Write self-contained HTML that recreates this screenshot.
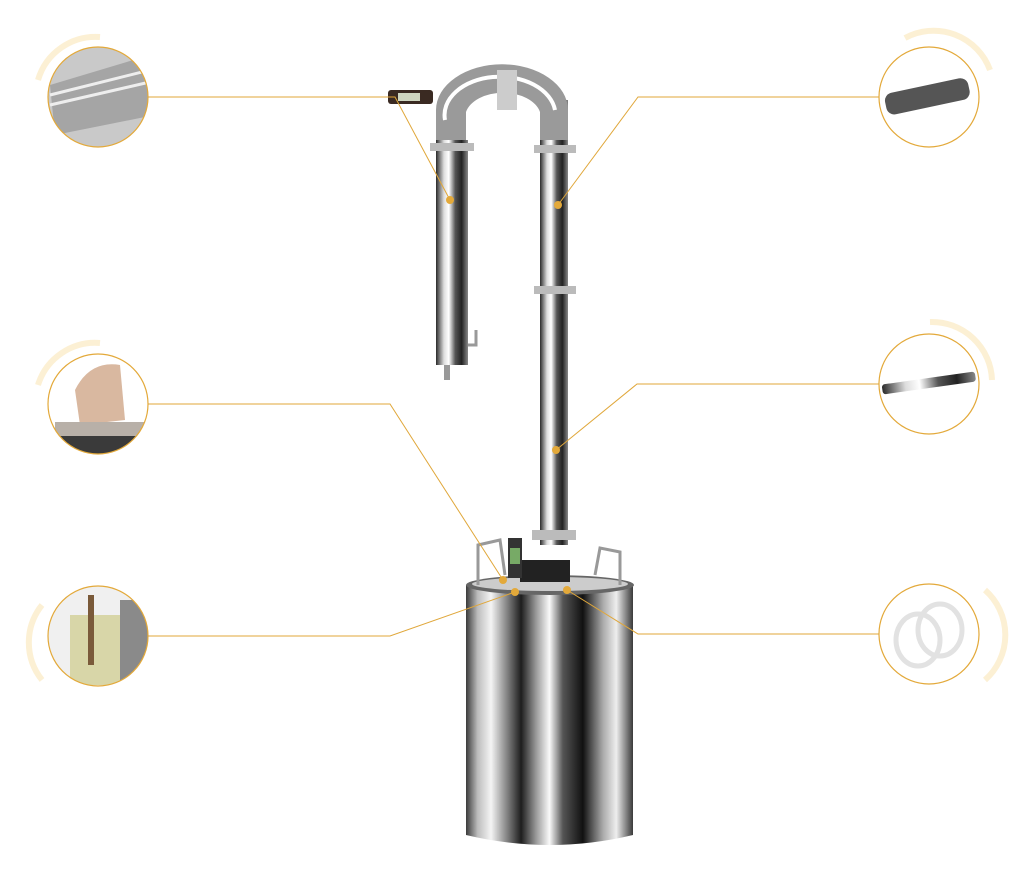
<!DOCTYPE html>
<html><head><meta charset="utf-8"><style>
html,body{margin:0;padding:0;background:#fff;}
svg{display:block;}
</style></head><body>
<svg width="1028" height="877" viewBox="0 0 1028 877" xmlns="http://www.w3.org/2000/svg">
<defs>
<linearGradient id="tank" x1="0" x2="1" y1="0" y2="0">
<stop offset="0" stop-color="#3a3a3a"/><stop offset=".07" stop-color="#bdbdbd"/><stop offset=".15" stop-color="#f4f4f4"/><stop offset=".24" stop-color="#8a8a8a"/><stop offset=".33" stop-color="#1e1e1e"/><stop offset=".42" stop-color="#9a9a9a"/><stop offset=".5" stop-color="#fafafa"/><stop offset=".58" stop-color="#555"/><stop offset=".7" stop-color="#111"/><stop offset=".82" stop-color="#aaa"/><stop offset=".9" stop-color="#eee"/><stop offset="1" stop-color="#3a3a3a"/>
</linearGradient>
<linearGradient id="pipe" x1="0" x2="1" y1="0" y2="0">
<stop offset="0" stop-color="#2a2a2a"/><stop offset=".25" stop-color="#ddd"/><stop offset=".4" stop-color="#fff"/><stop offset=".6" stop-color="#555"/><stop offset=".8" stop-color="#222"/><stop offset="1" stop-color="#888"/>
</linearGradient>
<clipPath id="c1"><circle cx="98" cy="97" r="50"/></clipPath>
<clipPath id="c2"><circle cx="98" cy="404" r="50"/></clipPath>
<clipPath id="c3"><circle cx="98" cy="636" r="50"/></clipPath>
<clipPath id="c4"><circle cx="929" cy="97" r="50"/></clipPath>
<clipPath id="c5"><circle cx="929" cy="384" r="50"/></clipPath>
<clipPath id="c6"><circle cx="929" cy="634" r="50"/></clipPath>
</defs>

<g fill="none" stroke="#fbecc9" stroke-width="6" opacity=".8">
<path d="M38,80 A60,60 0 0 1 100,37"/>
<path d="M38,385 A60,60 0 0 1 100,343"/>
<path d="M42,605 A60,60 0 0 0 42,680"/>
<path d="M905,38 A60,60 0 0 1 990,70"/>
<path d="M930,322 A60,60 0 0 1 992,380"/>
<path d="M985,590 A60,60 0 0 1 985,680"/>
</g>

<!-- circle contents -->
<g clip-path="url(#c1)"><rect x="40" y="40" width="120" height="120" fill="#c9c9c9"/><path d="M50,85 L150,55 L155,115 L55,135 Z" fill="#a5a5a5"/><path d="M50,95 L150,70 M50,105 L150,82" stroke="#eee" stroke-width="3"/></g>
<g clip-path="url(#c2)"><rect x="40" y="350" width="120" height="120" fill="#fff"/><path d="M75,390 Q90,360 120,365 L125,420 L80,425 Z" fill="#d9b8a0"/><rect x="55" y="422" width="90" height="14" fill="#b8b0a8"/><rect x="55" y="436" width="90" height="30" fill="#3a3a3a"/></g>
<g clip-path="url(#c3)"><rect x="40" y="580" width="120" height="120" fill="#f0f0f0"/><rect x="70" y="615" width="50" height="70" fill="#d8d6a8"/><rect x="120" y="600" width="30" height="90" fill="#8a8a8a"/><rect x="88" y="595" width="6" height="70" fill="#7a5a3a"/></g>
<g clip-path="url(#c4)"><rect x="885" y="85" width="85" height="22" fill="#555" rx="8" transform="rotate(-12 929 97)"/></g>
<g clip-path="url(#c5)"><rect x="882" y="378" width="94" height="10" fill="url(#pipe)" rx="3" transform="rotate(-8 929 384)"/></g>
<g clip-path="url(#c6)" fill="none" stroke="#e2e2e2" stroke-width="5"><ellipse cx="918" cy="640" rx="22" ry="26"/><ellipse cx="940" cy="630" rx="22" ry="26"/></g>

<g fill="none" stroke="#e3a93a" stroke-width="1.2">
<circle cx="98" cy="97" r="50"/><circle cx="98" cy="404" r="50"/><circle cx="98" cy="636" r="50"/>
<circle cx="929" cy="97" r="50"/><circle cx="929" cy="384" r="50"/><circle cx="929" cy="634" r="50"/>
</g>

<!-- distiller -->
<path d="M466,585 L633,585 L633,835 Q550,855 466,835 Z" fill="url(#tank)"/>
<ellipse cx="550" cy="585" rx="84" ry="10" fill="#666"/>
<ellipse cx="550" cy="584" rx="78" ry="7" fill="#ccc"/>
<g fill="none" stroke="#999" stroke-width="3">
<path d="M478,585 L478,545 L500,540 L505,575"/>
<path d="M620,585 L620,552 L600,548 L595,575"/>
</g>
<rect x="520" y="560" width="50" height="22" fill="#222"/>
<rect x="508" y="538" width="14" height="40" fill="#333"/>
<rect x="510" y="548" width="10" height="16" fill="#7a6"/>
<rect x="540" y="100" width="28" height="445" fill="url(#pipe)"/>
<rect x="532" y="530" width="44" height="10" fill="#bbb"/>
<rect x="534" y="286" width="42" height="8" fill="#bbb"/>
<rect x="534" y="145" width="42" height="8" fill="#bbb"/>
<path d="M436,140 L436,110 A65,45 0 0 1 568,110 L568,140 L540,140 L540,112 A38,25 0 0 0 466,112 L466,140 Z" fill="#9a9a9a"/>
<path d="M445,120 A55,38 0 0 1 555,110" fill="none" stroke="#fff" stroke-width="4"/>
<rect x="497" y="70" width="20" height="40" fill="#ccc"/>
<rect x="436" y="140" width="32" height="225" fill="url(#pipe)"/>
<rect x="430" y="143" width="44" height="8" fill="#bbb"/>
<rect x="444" y="365" width="6" height="15" fill="#999"/>
<path d="M468,345 L476,345 L476,330" fill="none" stroke="#999" stroke-width="3"/>
<rect x="388" y="90" width="45" height="14" rx="3" fill="#3a2a22"/>
<rect x="398" y="93" width="22" height="8" fill="#cfd6c0"/>

<!-- connector lines -->
<g fill="none" stroke="#e0a73a" stroke-width="1">
<polyline points="148,97 395,97 450,200"/>
<polyline points="879,97 638,97 558,205"/>
<polyline points="148,404 390,404 503,580"/>
<polyline points="148,636 390,636 515,592"/>
<polyline points="879,384 637,384 556,450"/>
<polyline points="879,634 638,634 567,590"/>
</g>
<g fill="#e3a93a">
<circle cx="450" cy="200" r="4"/><circle cx="558" cy="205" r="4"/>
<circle cx="556" cy="450" r="4"/><circle cx="503" cy="580" r="4"/>
<circle cx="515" cy="592" r="4"/><circle cx="567" cy="590" r="4"/>
</g>
</svg>
</body></html>
